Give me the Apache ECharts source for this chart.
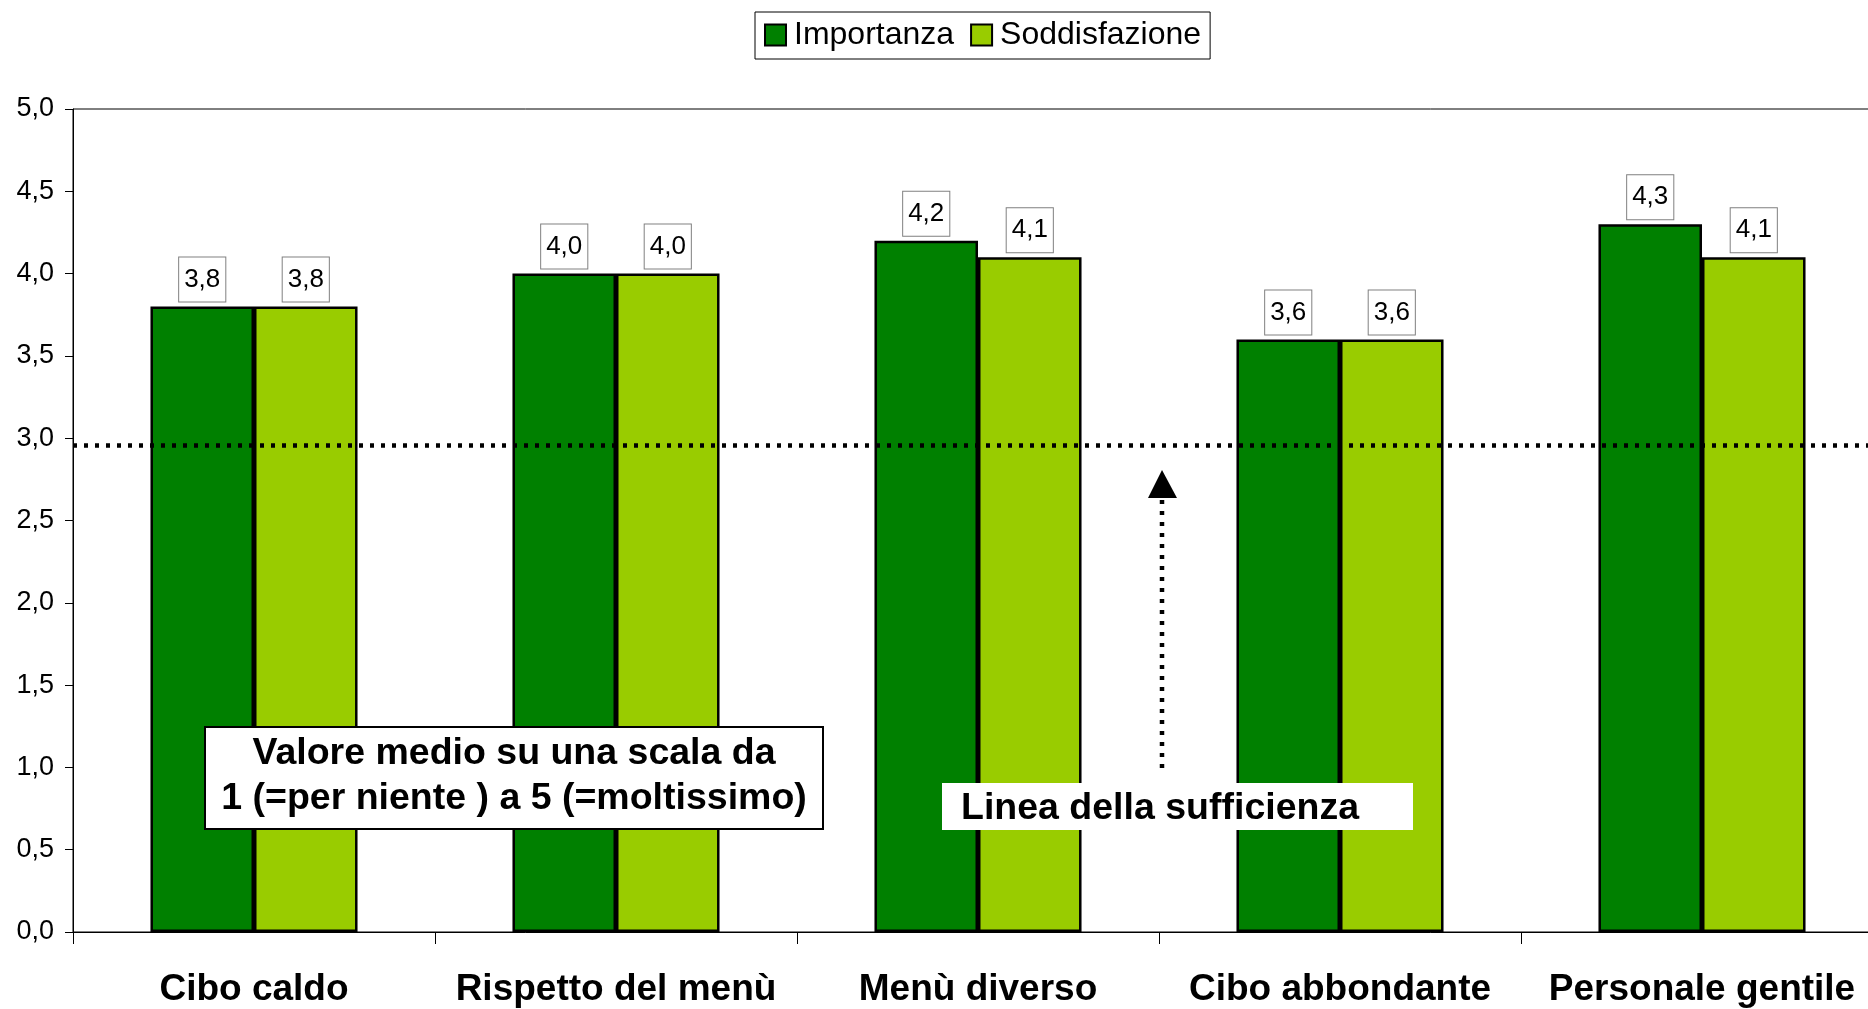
<!DOCTYPE html>
<html>
<head>
<meta charset="utf-8">
<script src="https://cdn.jsdelivr.net/npm/echarts@6/dist/echarts.min.js"></script>
<style>
  html, body { margin: 0; padding: 0; background: #fff; overflow: hidden; }
  #chart { width: 1883px; height: 1009px; }
</style>
</head>
<body>
<div id="chart"></div>
<script>
const categories = ['Cibo caldo', 'Rispetto del menù', 'Menù diverso', 'Cibo abbondante', 'Personale gentile']
const importanza = [3.8, 4.0, 4.2, 3.6, 4.3]
const soddisfazione = [3.8, 4.0, 4.1, 3.6, 4.1]
const sufficienza = 2.96

const font = "'Liberation Sans', Arial, sans-serif"
const fmt = v => Number(v).toFixed(1).replace('.', ',')

const chart = echarts.init(document.getElementById('chart'))

let barLabel = {
  show: true,
  position: 'top',
  distance: 5,
  formatter: p => fmt(p.value),
  fontFamily: font,
  fontSize: 26,
  color: '#000',
  backgroundColor: '#fff',
  borderColor: '#808080',
  borderWidth: 1,
  padding: [9, 5, 9, 5]
}

let option = {
  animation: false,
  textStyle: { fontFamily: font },
  legend: {
    left: 755,
    top: 12,
    padding: [7, 9, 8, 9],
    borderColor: '#000',
    borderWidth: 1,
    itemGap: 16,
    itemWidth: 21,
    itemHeight: 21,
    icon: 'rect',
    textStyle: { fontFamily: font, fontSize: 32, color: '#000', padding: [0, 0, 0, 3] },
    data: ['Importanza', 'Soddisfazione']
  },
  grid: {
    left: 73,
    top: 109,
    right: 0,
    bottom: 77,
    show: true,
    borderColor: '#000',
    borderWidth: 1,
    backgroundColor: 'transparent'
  },
  xAxis: {
    type: 'category',
    data: categories,
    axisLine: { lineStyle: { color: '#000', width: 1 } },
    axisTick: { show: true, length: 12, lineStyle: { color: '#000' } },
    axisLabel: { fontFamily: font, fontSize: 37, fontWeight: 'bold', color: '#000', margin: 39, interval: 0 }
  },
  yAxis: {
    type: 'value',
    min: 0,
    max: 5,
    interval: 0.5,
    axisLine: { show: true, lineStyle: { color: '#000', width: 1 } },
    axisTick: { show: true, length: 8, lineStyle: { color: '#000' } },
    splitLine: { show: false },
    axisLabel: { fontFamily: font, fontSize: 27, color: '#000', margin: 19, formatter: v => fmt(v) }
  },
  series: [{
    name: 'Importanza',
    type: 'bar',
    data: importanza,
    barWidth: '28.6%',
    barGap: 0,
    itemStyle: { color: '#008000', borderColor: '#000', borderWidth: 2.5 },
    label: barLabel,
    markLine: {
      silent: true,
      symbol: ['none', 'none'],
      label: { show: false },
      lineStyle: { color: '#000', width: 4.5, type: [4, 7] },
      data: [{ yAxis: sufficienza }]
    },
    z: 2
  }, {
    name: 'Soddisfazione',
    type: 'bar',
    data: soddisfazione,
    barWidth: '28.6%',
    itemStyle: { color: '#99CC00', borderColor: '#000', borderWidth: 2.5 },
    label: barLabel,
    z: 2
  }],
  graphic: [
    {
      type: 'rect',
      z: 100,
      shape: { x: 205, y: 727, width: 618, height: 102 },
      style: { fill: '#fff', stroke: '#000', lineWidth: 2 }
    },
    {
      type: 'text',
      z: 101,
      x: 514,
      y: 776,
      style: {
        text: 'Valore medio su una scala da\n1 (=per niente ) a 5 (=moltissimo)',
        font: 'bold 37.5px ' + font,
        fill: '#000',
        align: 'center',
        verticalAlign: 'middle',
        lineHeight: 45
      }
    },
    {
      type: 'rect',
      z: 100,
      shape: { x: 942, y: 783, width: 471, height: 47 },
      style: { fill: '#fff' }
    },
    {
      type: 'text',
      z: 101,
      x: 961,
      y: 809,
      style: {
        text: 'Linea della sufficienza',
        font: 'bold 37.5px ' + font,
        fill: '#000',
        align: 'left',
        verticalAlign: 'middle'
      }
    },
    {
      type: 'line',
      z: 100,
      shape: { x1: 1162, y1: 768, x2: 1162, y2: 500 },
      style: { stroke: '#000', lineWidth: 4.5, lineDash: [4, 7] }
    },
    {
      type: 'polygon',
      z: 100,
      shape: { points: [[1162, 470], [1148, 498], [1177, 498]] },
      style: { fill: '#000' }
    }
  ]
}

option && chart.setOption(option)
</script>
</body>
</html>
